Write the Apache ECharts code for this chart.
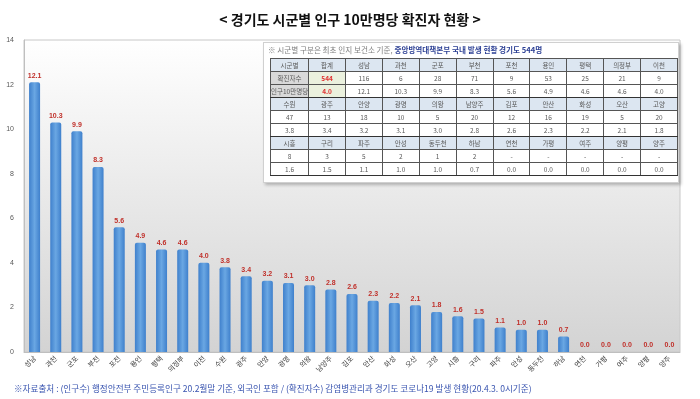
<!DOCTYPE html>
<html>
<head>
<meta charset="utf-8">
<script src="https://cdn.jsdelivr.net/npm/echarts@6/dist/echarts.min.js"></script>
<style>
    html, body { margin: 0; padding: 0; background: #fff; }
    #wrap { position: relative; width: 700px; height: 399px; }
    #chart { position: absolute; left: 0; top: 0; width: 700px; height: 399px; }
    #box {
        position: absolute; left: 263px; top: 42px; width: 416px; height: 141px;
        background: #fff; border: 1px solid #d0d0d0; box-sizing: border-box;
        box-shadow: 2px 2px 3px rgba(0,0,0,0.25);
        font-family: "Noto Sans CJK KR", sans-serif;
    }
    #note { position: absolute; left: 4px; top: 1px; font-size: 7.6px; color: #7f7f7f; white-space: nowrap; }
    #note b { color: #2b3f94; }
    #tbl {
        position: absolute; left: 6px; top: 15px; border-collapse: collapse;
        border: 1.5px solid #333; table-layout: fixed;
    }
    #tbl td {
        border: 1px solid #555; height: 12px; padding: 0; text-align: center;
        font-size: 6.5px; color: #595959; line-height: 12px; white-space: nowrap; overflow: hidden;
    }
    #tbl tr.head td { background: #dce6f1; }
    #tbl tr.sep td { border-bottom: 1.5px solid #333; }
    #tbl td.lab { background: #d9d9d9; }
    #tbl td.tot { background: #ebf1de; color: #e03030; font-weight: bold; }
</style>
</head>
<body>
<div id="wrap">
    <div id="chart"></div>
    <div id="box">
        <div id="note">※ 시군별 구분은 최초 인지 보건소 기준, <b>중앙방역대책본부 국내 발생 현황 경기도 544명</b></div>
        <table id="tbl"></table>
    </div>
</div>
<script>
    // 시군별 데이터 (인구 10만명당 확진자, 확진자수)
    var cities = ['성남', '과천', '군포', '부천', '포천', '용인', '평택', '의정부', '이천', '수원',
        '광주', '안양', '광명', '의왕', '남양주', '김포', '안산', '화성', '오산', '고양',
        '시흥', '구리', '파주', '안성', '동두천', '하남', '연천', '가평', '여주', '양평', '양주'];
    var rates = [12.1, 10.3, 9.9, 8.3, 5.6, 4.9, 4.6, 4.6, 4.0, 3.8,
        3.4, 3.2, 3.1, 3.0, 2.8, 2.6, 2.3, 2.2, 2.1, 1.8,
        1.6, 1.5, 1.1, 1.0, 1.0, 0.7, 0.0, 0.0, 0.0, 0.0, 0.0];
    var cases = [116, 6, 28, 71, 9, 53, 25, 21, 9, 47,
        13, 18, 10, 5, 20, 12, 16, 19, 5, 20,
        8, 3, 5, 2, 1, 2, 0, 0, 0, 0, 0];
    var total_cases = 544;
    var total_rate = 4.0;
    var y_ticks = [0, 2, 4, 6, 8, 10, 12, 14];

    // table
    function cell(txt, cls){
        return '<td' + (cls ? ' class="' + cls + '"' : '') + '>' + txt + '</td>';
    }
    function build_table(){
        var rows = [];
        var first_w = 32, w = 37.2;
        var cols = '<colgroup><col style="width:' + first_w + 'px">';
        for (var i = 0; i < 10; i++) cols += '<col style="width:' + w + 'px">';
        cols += '</colgroup>';
        var groups = [[0, 9], [9, 20], [20, 31]];
        groups.forEach(function(g, gi){
            var head = '', cnt = '', rt = '';
            if (gi === 0) {
                head += cell('시군별') + cell('합계');
                cnt += cell('확진자수', 'lab') + cell(total_cases, 'tot');
                rt += cell('인구10만명당', 'lab') + cell(total_rate.toFixed(1), 'tot');
            }
            for (var k = g[0]; k < g[1]; k++) {
                head += cell(cities[k]);
                cnt += cell(cases[k] > 0 ? cases[k] : '-');
                rt += cell(rates[k].toFixed(1));
            }
            rows.push('<tr class="head">' + head + '</tr>');
            rows.push('<tr>' + cnt + '</tr>');
            rows.push('<tr class="sep">' + rt + '</tr>');
        });
        document.getElementById('tbl').innerHTML = cols + rows.join('');
    }
    build_table();

    var chart = echarts.init(document.getElementById('chart'));
    var options = {
        animation: false,
        title: {
            text: '< 경기도 시군별 인구 10만명당 확진자 현황 >',
            left: 'center',
            top: 8,
            textStyle: {
                fontFamily: 'Noto Sans CJK KR',
                fontSize: 14,
                fontWeight: 'bold',
                color: '#111'
            }
        },
        graphic: [
            {
                type: 'text',
                left: 14,
                top: 384,
                style: {
                    text: '※자료출처 : (인구수) 행정안전부 주민등록인구 20.2월말 기준, 외국인 포함 / (확진자수) 감염병관리과 경기도 코로나19 발생 현황(20.4.3. 0시기준)',
                    font: '8.6px "Noto Sans CJK KR"',
                    fill: '#3a55b0'
                }
            }
        ],
        grid: {
            left: 24,
            right: 20,
            top: 40,
            bottom: 47,
            show: true,
            borderColor: '#c8c8c8',
            borderWidth: 1,
            backgroundColor: new echarts.graphic.LinearGradient(0, 0, 0, 1, [
                { offset: 0, color: '#ffffff' },
                { offset: 1, color: '#d3d3d3' }
            ])
        },
        xAxis: {
            type: 'category',
            data: cities,
            axisTick: { show: false },
            axisLine: { lineStyle: { color: '#bfbfbf' } },
            axisLabel: {
                interval: 0,
                rotate: 45,
                fontSize: 7,
                margin: 5,
                color: '#404040',
                fontFamily: 'Noto Sans CJK KR'
            }
        },
        yAxis: {
            type: 'value',
            min: y_ticks[0],
            max: y_ticks[y_ticks.length - 1],
            interval: 2,
            splitLine: { show: false },
            axisLine: { show: true, lineStyle: { color: '#bfbfbf' } },
            axisTick: { show: false },
            axisLabel: { fontSize: 7, color: '#595959', margin: 10 }
        },
        series: [
            {
                type: 'bar',
                data: rates,
                barWidth: 11,
                itemStyle: {
                    borderRadius: [2, 2, 0, 0],
                    color: new echarts.graphic.LinearGradient(0, 0, 1, 0, [
                        { offset: 0, color: '#3f80cc' },
                        { offset: 0.5, color: '#6aa7e3' },
                        { offset: 1, color: '#3f80cc' }
                    ])
                },
                label: {
                    show: true,
                    position: 'top',
                    distance: 3,
                    fontSize: 7,
                    fontWeight: 'bold',
                    color: '#c0302a',
                    formatter: function(p){ return p.value.toFixed(1); }
                }
            }
        ]
    };
    chart.setOption(options);
</script>
</body>
</html>
